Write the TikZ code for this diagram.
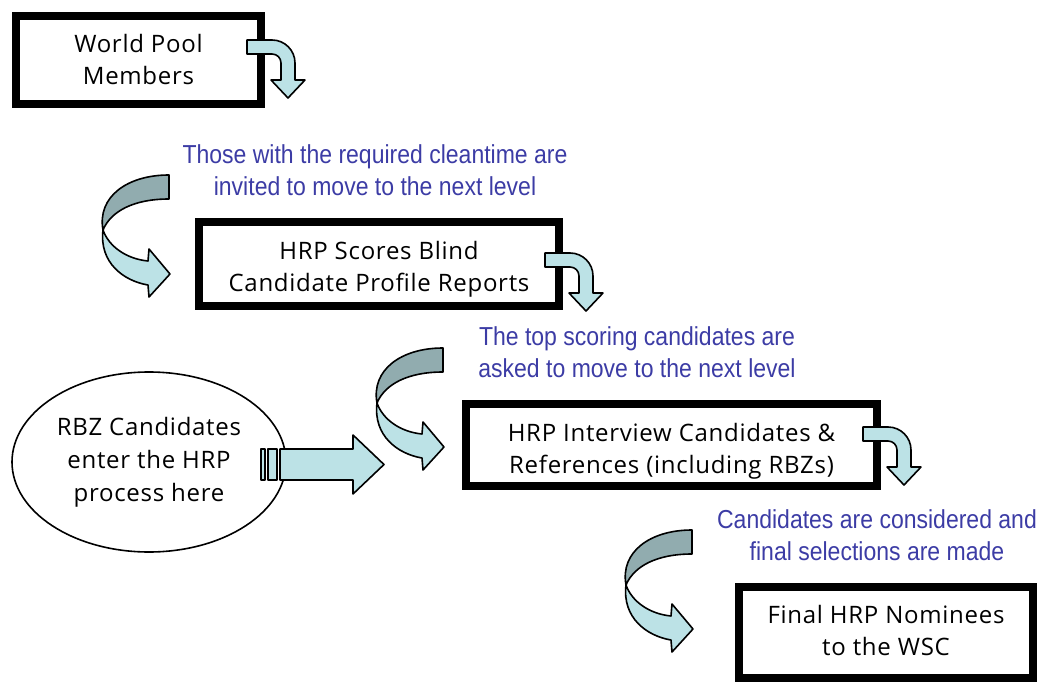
\documentclass[tikz,border=0pt]{standalone}
\usepackage{fontspec}
\usetikzlibrary{shapes.geometric}
\newfontfamily\boxfont[LetterSpace=3]{Open Sans}
\newfontfamily\bluefont[FakeStretch=0.885]{Liberation Sans}
\definecolor{lightc}{RGB}{188,226,230}
\definecolor{darkc}{RGB}{145,172,175}
\definecolor{bluetxt}{RGB}{60,60,165}
\tikzset{
  arrowline/.style={draw=black, line width=1.6pt, line join=round},
  stepbox/.style={draw=black, line width=8pt, fill=white, inner sep=0pt},
  boxtext/.style={align=center, inner sep=0pt, font=\boxfont\fontsize{24}{32}\selectfont},
  note/.style={align=center, text=bluetxt, inner sep=0pt, font=\bluefont\fontsize{26}{31.5}\selectfont},
  hook/.pic={
    \draw[arrowline, fill=lightc] (0,0) -- (25,0) .. controls (37.7,0) and (48,10.3) .. (48,23)
      -- (48,40) -- (58,40) -- (41,58) -- (24,40) -- (34,40) -- (34,23)
      .. controls (34,18) and (30,14) .. (25,14) -- (0,14) -- cycle;
  },
  curl/.pic={
    \draw[arrowline, fill=darkc] (0,0) .. controls (-42,0) and (-72,22) .. (-66,55)
      .. controls (-58,36) and (-35,24) .. (0,24) -- cycle;
    \draw[arrowline, fill=lightc] (-66,55) .. controls (-70,88) and (-45,106) .. (-21,110)
      -- (-20,122) -- (1,99) -- (-20,74) -- (-21,86)
      .. controls (-42,84) and (-60,72) .. (-66,55) -- cycle;
  }
}
\begin{document}
\begin{tikzpicture}[x=1pt,y=-1pt]
\useasboundingbox (0,0) rectangle (1039,682);
% boxes
\node[stepbox, minimum width=245pt, minimum height=88pt] (b1) at (138.5,60) {};
\node[boxtext] (t1) at ([yshift=0pt]b1.center) {World Pool\\Members};
\node[stepbox, minimum width=360pt, minimum height=84pt] (b2) at (379,264) {};
\node[boxtext] (t2) at ([yshift=-5pt]b2.center) {HRP Scores Blind\\Candidate Profile Reports};
\node[stepbox, minimum width=411pt, minimum height=82pt] (b3) at (671.5,445) {};
\node[boxtext] (t3) at ([yshift=-6pt]b3.center) {HRP Interview Candidates \&\\References (including RBZs)};
\node[stepbox, minimum width=294pt, minimum height=91pt] (b4) at (886,632.5) {};
\node[boxtext] (t4) at ([yshift=2pt]b4.center) {Final HRP Nominees\\to the WSC};
% ellipse
\node[draw=black, line width=1.6pt, ellipse, minimum width=274pt, minimum height=180pt, inner sep=0pt,
  align=center, font=\boxfont\fontsize{24}{33}\selectfont] (rbz) at (149,462) {RBZ Candidates\\enter the HRP\\process here};
% notes
\node[note] (n1) at (375,170) {Those with the required cleantime are\\invited to move to the next level};
\node[note] (n2) at (637,352) {The top scoring candidates are\\asked to move to the next level};
\node[note] (n3) at (877,535) {Candidates are considered and\\final selections are made};
% hook arrows
\pic at (247,40) {hook};
\pic at (545,253) {hook};
\pic at (863,427) {hook};
% curled arrows
\pic at (169,175) {curl};
\pic at (443,348) {curl};
\pic at (692,530) {curl};
% straight arrow
\draw[arrowline, fill=lightc] (261,449) rectangle (265,480);
\draw[arrowline, fill=lightc] (268,449) rectangle (277,480);
\draw[arrowline, fill=lightc] (280,449) -- (353,449) -- (353,435) -- (384,464.5) -- (353,494) -- (353,480) -- (280,480) -- cycle;
\end{tikzpicture}
\end{document}
